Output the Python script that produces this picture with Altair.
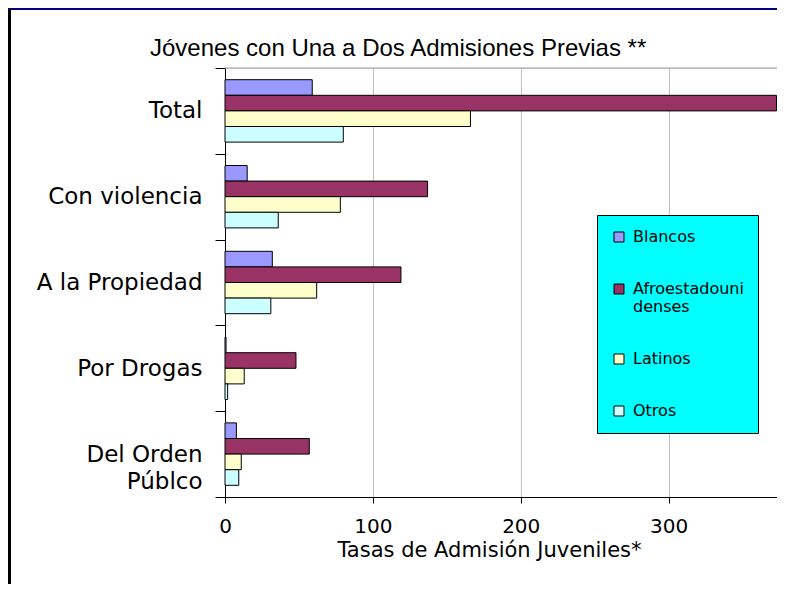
import altair as alt
import pandas as pd

categories = ["Total", "Con violencia", "A la Propiedad", "Por Drogas", "Del Orden\nPúblco"]
series = ["Blancos", "Afroestadounidenses", "Latinos", "Otros"]
blancos = [59, 15, 32, 0.7, 7.7]
afro = [373, 137, 119, 48, 57]
latinos = [166, 78, 62, 13, 11]
otros = [80, 36, 31, 1.8, 9.3]
colors = ["#9999FF", "#993366", "#FFFFCC", "#CCFFFF"]
x_ticks = [0, 100, 200, 300]

title_text = "Jóvenes con Una a Dos Admisiones Previas **"
x_title = "Tasas de Admisión Juveniles*"

rows = []
for s, vals in zip(series, [blancos, afro, latinos, otros]):
    for c, v in zip(categories, vals):
        rows.append({"categoria": c, "serie": s, "tasa": v})
df = pd.DataFrame(rows)

W, H = 552, 429
PL, PT, PR, PB = 217, 60, 0, 87
LAB = "DejaVu Sans"

bars = alt.Chart(df).mark_bar(stroke="black", strokeWidth=1).encode(
    x=alt.X(
        "tasa:Q",
        scale=alt.Scale(domain=[0, 373.3], nice=False, zero=True),
        axis=alt.Axis(
            values=x_ticks, grid=True, gridColor="#c0c0c0", gridWidth=1,
            tickSize=6, tickColor="black", domainColor="black",
            labelFont=LAB, labelFontSize=20, labelColor="black", labelPadding=13,
            labelFlush=False, labelOverlap=False,
            title=x_title, titleFont=LAB, titleFontSize=21, titleFontWeight="normal",
            titleColor="black", titleX=264, titleY=42, titleBaseline="top", titleAlign="center",
        ),
    ),
    y=alt.Y(
        "categoria:N",
        sort=categories,
        scale=alt.Scale(paddingInner=0, paddingOuter=0),
        axis=alt.Axis(
            title=None, tickBand="extent", tickSize=10, tickColor="black",
            domainColor="black", labelFont=LAB, labelFontSize=23, labelColor="black",
            labelPadding=13, labelLimit=300, labelLineHeight=27,
            labelBaseline="bottom", labelOffset=12,
            labelExpr="split(datum.label, '\\n')",
        ),
    ),
    yOffset=alt.YOffset(
        "serie:N", sort=series, scale=alt.Scale(paddingInner=0, paddingOuter=0.75)
    ),
    color=alt.Color(
        "serie:N",
        sort=series,
        scale=alt.Scale(domain=series, range=colors),
        legend=alt.Legend(
            title=None, orient="none", legendX=372, legendY=147,
            fillColor="#00FFFF", strokeColor="black", padding=14,
            labelFont=LAB, labelFontSize=16, labelColor="black", labelLimit=300,
            labelOffset=6, rowPadding=36,
            symbolType="square", symbolSize=100, symbolStrokeColor="black",
            symbolStrokeWidth=1, symbolOpacity=1,
            labelExpr="length(datum.label) > 13 ? [substring(datum.label, 0, 13), substring(datum.label, 13)] : datum.label",
        ),
    ),
)

one = pd.DataFrame({"k": [0]})
top_line = alt.Chart(one).mark_rule(color="#999999", strokeWidth=1).encode(
    x=alt.value(0), x2=alt.value(W), y=alt.value(0)
)
navy = alt.Chart(one).mark_rule(color="#000080", strokeWidth=3).encode(
    x=alt.value(-PL), x2=alt.value(W), y=alt.value(-PT + 0.5)
)
left_border = alt.Chart(one).mark_rule(color="black", strokeWidth=3).encode(
    x=alt.value(-PL + 1.5), y=alt.value(-PT), y2=alt.value(H + PB)
)

chart = alt.layer(top_line, bars, navy, left_border).properties(
    width=W, height=H,
    autosize=alt.AutoSizeParams(type="none"),
    padding={"left": PL, "top": PT, "right": PR, "bottom": PB},
    title=alt.TitleParams(
        title_text, font="Liberation Sans", fontSize=24, fontWeight="normal",
        color="black", anchor="start", frame="group", dx=-75, dy=73,
        baseline="alphabetic", offset=0,
    ),
).configure_view(stroke=None).configure(background="white")

chart.save("out.html", embed_options={"renderer": "svg", "actions": False})
